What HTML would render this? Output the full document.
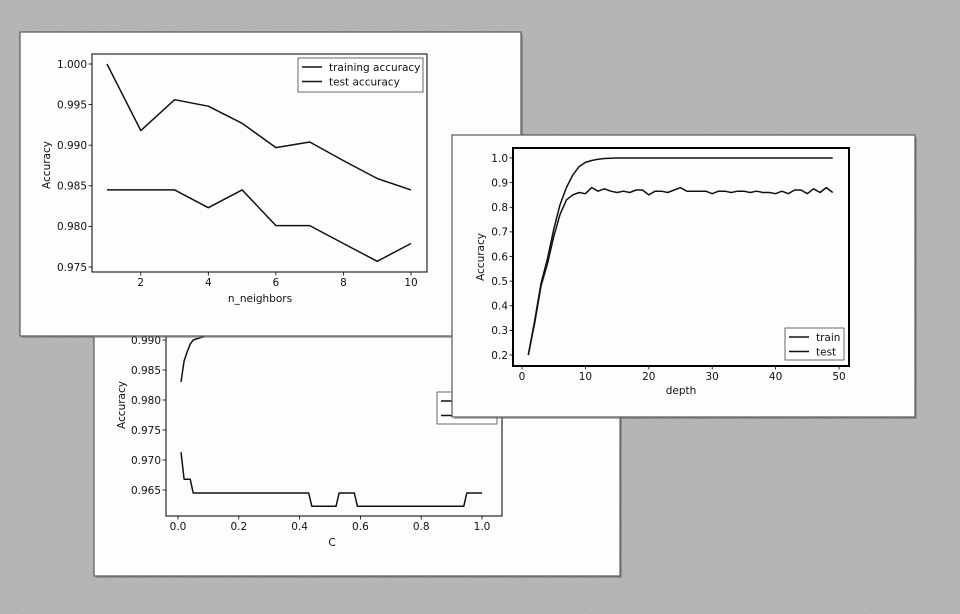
<!DOCTYPE html>
<html><head><meta charset="utf-8"><style>
html,body{margin:0;padding:0;background:#afafaf;}
svg{display:block;font-family:"DejaVu Sans","Liberation Sans",sans-serif;}
</style></head><body>
<svg id="s" width="960" height="614" viewBox="0 0 960 614">
<defs>
<filter id="tex" x="0" y="0" width="100%" height="100%">
<feTurbulence type="fractalNoise" baseFrequency="0.9" numOctaves="2" seed="3"/>
<feColorMatrix type="matrix" values="0 0 0 0 0.75  0 0 0 0 0.75  0 0 0 0 0.75  0.8 0 0 0 -0.1"/>
</filter>
</defs>
<rect width="960" height="614" fill="#adadad"/>
<rect width="960" height="614" fill="#c4c4c4" opacity="0.5" filter="url(#tex)"/>
<g id="g2"></g>
<g id="g1"></g>
<g id="g3"></g>
</svg>
<script>
// ---- Chart 1 data (knn) ----
const knnNeighbors = [1,2,3,4,5,6,7,8,9,10];
const knnTrain = [1.000,0.9918,0.9956,0.9948,0.9927,0.9897,0.9904,0.9881,0.9859,0.9845];
const knnTest = [0.9845,0.9845,0.9845,0.9823,0.9845,0.9801,0.9801,0.9779,0.9757,0.9779];
const knnXTicks = [2,4,6,8,10];
const knnYTicks = [0.975,0.980,0.985,0.990,0.995,1.000];
// ---- Chart 2 data (C) ----
const cTrainX = [0.01,0.02,0.03,0.04,0.05,0.08,0.1,0.5,1.0];
const cTrainY = [0.983,0.9865,0.988,0.9893,0.990,0.9905,0.991,0.9915,0.992];
const cTestX = [0.01,0.02,0.03,0.04,0.05,0.43,0.44,0.52,0.53,0.58,0.59,0.94,0.95,1.0];
const cTestY = [0.9713,0.9668,0.9668,0.9668,0.9645,0.9645,0.9623,0.9623,0.9645,0.9645,0.9623,0.9623,0.9645,0.9645];
const cXTicks = [0.0,0.2,0.4,0.6,0.8,1.0];
const cYTicks = [0.965,0.970,0.975,0.980,0.985,0.990];
// ---- Chart 3 data (depth) ----
const depths = [1,2,3,4,5,6,7,8,9,10,11,12,13,14,15,16,17,18,19,20,21,22,23,24,25,26,27,28,29,30,31,32,33,34,35,36,37,38,39,40,41,42,43,44,45,46,47,48,49];
const depthTrain = [0.2,0.34,0.49,0.59,0.71,0.81,0.88,0.93,0.965,0.982,0.99,0.995,0.998,0.999,1,1,1,1,1,1,1,1,1,1,1,1,1,1,1,1,1,1,1,1,1,1,1,1,1,1,1,1,1,1,1,1,1,1,1];
const depthTest = [0.2,0.33,0.48,0.57,0.68,0.77,0.83,0.85,0.86,0.855,0.88,0.865,0.875,0.865,0.86,0.865,0.86,0.87,0.87,0.85,0.865,0.865,0.86,0.87,0.88,0.865,0.865,0.865,0.865,0.855,0.865,0.865,0.86,0.865,0.865,0.86,0.865,0.86,0.86,0.855,0.865,0.855,0.87,0.87,0.855,0.875,0.86,0.88,0.86];
const depthXTicks = [0,10,20,30,40,50];
const depthYTicks = [0.2,0.3,0.4,0.5,0.6,0.7,0.8,0.9,1.0];

const NS = "http://www.w3.org/2000/svg";
function mk(parent, tag, attrs){ const e=document.createElementNS(NS,tag); for(const k in attrs) e.setAttribute(k,attrs[k]); parent.appendChild(e); return e; }
function scale(d0,d1,r0,r1){ return v => r0 + (v-d0)/(d1-d0)*(r1-r0); }

function panel(g, x, y, w, h){
  const r = mk(g,'rect',{x:x+2,y:y+2,width:w,height:h,fill:'#6a6a6a',opacity:0.5});
  
  
  const p = mk(g,'rect',{x:x,y:y,width:w,height:h,fill:'#fdfdfd',stroke:'#5a5a5a','stroke-width':1.2});
  
  
}
function axes(g, L,T,R,B, sx, sy, xt, yt, fmtX, fmtY, sw){
  const f = mk(g,'rect',{x:L,y:T,width:R-L,height:B-T,fill:'none',stroke:'#000','stroke-width':sw});
  
  
  xt.forEach(v=>{
    const px=sx(v);
    mk(g,'line',{x1:px,x2:px,y1:B,y2:B+3.5,stroke:'#000','stroke-width':0.8});
    const t=mk(g,'text',{x:px,y:B+14,'font-size':10.5,'text-anchor':'middle',fill:'#111'});
    t.textContent=fmtX(v);
    
    
  });
  yt.forEach(v=>{
    const py=sy(v);
    mk(g,'line',{x1:L-3.5,x2:L,y1:py,y2:py,stroke:'#000','stroke-width':0.8});
    const t=mk(g,'text',{x:L-5,y:py+3.8,'font-size':10.5,'text-anchor':'end',fill:'#111'});
    t.textContent=fmtY(v);
    
    
  });
}
function line(g, xs, ys, sx, sy, name, clip){
  const d = xs.map((v,i)=>(i?'L':'M')+sx(v).toFixed(1)+','+sy(ys[i]).toFixed(1)).join(' ');
  const p = mk(g,'path',{d:d,fill:'none',stroke:'#111','stroke-width':1.5,'stroke-linejoin':'round'});
  if(clip) p.setAttribute('clip-path',clip);
  
  
}
function label(g,x,y,txt,rot,name){
  const t=mk(g,'text',{x:x,y:y,'font-size':10.5,'text-anchor':'middle',fill:'#111'});
  if(rot) t.setAttribute('transform','rotate(-90 '+x+' '+y+')');
  t.textContent=txt;
  
  
}
function legend(g,x,y,w,h,items){
  const b=mk(g,'rect',{x:x,y:y,width:w,height:h,fill:'#fff',stroke:'#444','stroke-width':0.8});
  
  
  items.forEach((s,i)=>{
    const yy=y+9+i*14.5;
    mk(g,'line',{x1:x+4,x2:x+24,y1:yy,y2:yy,stroke:'#111','stroke-width':1.5});
    const t=mk(g,'text',{x:x+31,y:yy+3.8,'font-size':10.5,fill:'#111'});
    t.textContent=s;
    
    
  });
}

// ---- Chart 2 (bottom-left, underneath) ----
(function(){
  const g=document.getElementById('g2');
  panel(g,94,300,526,276);
  const L=166,R=502,T=310,B=516;
  const sx=scale(0,1,178,482), sy=scale(0.990,0.965,340,490);
  const cp=mk(g,'clipPath',{id:'c2'}); mk(cp,'rect',{x:L,y:T,width:R-L,height:B-T});
  axes(g,L,T,R,B,sx,sy,cXTicks,cYTicks,v=>v.toFixed(1),v=>v.toFixed(3),1);
  line(g,cTrainX,cTrainY,sx,sy,'train-line','url(#c2)');
  line(g,cTestX,cTestY,sx,sy,'test-line','url(#c2)');
  label(g,332,546,'C',false,'x-axis-title');
  label(g,125,405,'Accuracy',true,'y-axis-title');
  legend(g,437,392,60,32,['',''] );
})();

// ---- Chart 1 (top-left) ----
(function(){
  const g=document.getElementById('g1');
  panel(g,20,32,501,304);
  const L=92,R=427,T=54,B=272;
  const sx=scale(1,10,107,411), sy=scale(1.000,0.975,64,267);
  axes(g,L,T,R,B,sx,sy,knnXTicks,knnYTicks,v=>String(v),v=>v.toFixed(3),1);
  line(g,knnNeighbors,knnTrain,sx,sy,'training-accuracy-line');
  line(g,knnNeighbors,knnTest,sx,sy,'test-accuracy-line');
  label(g,260,302,'n_neighbors',false,'x-axis-title');
  label(g,50,165,'Accuracy',true,'y-axis-title');
  legend(g,298,58,125,34,['training accuracy','test accuracy']);
})();

// ---- Chart 3 (right, on top) ----
(function(){
  const g=document.getElementById('g3');
  panel(g,452,135,463,282);
  const L=513,R=849,T=148,B=366;
  const sx=scale(0,50,522,839), sy=scale(1.0,0.2,158,355);
  axes(g,L,T,R,B,sx,sy,depthXTicks,depthYTicks,v=>String(v),v=>v.toFixed(1),2);
  line(g,depths,depthTrain,sx,sy,'train-line');
  line(g,depths,depthTest,sx,sy,'test-line');
  label(g,681,394,'depth',false,'x-axis-title');
  label(g,484,257,'Accuracy',true,'y-axis-title');
  legend(g,785,328,59,32,['train','test']);
})();
</script>
</body></html>
